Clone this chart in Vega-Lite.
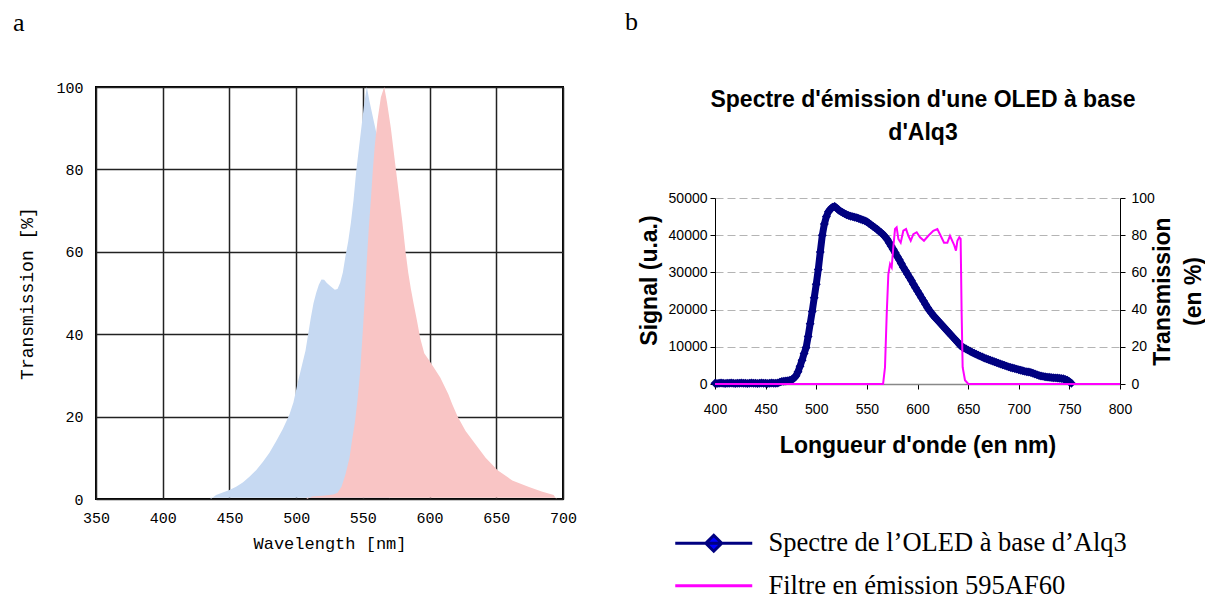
{
  "$schema": "https://vega.github.io/schema/vega-lite/v6.json",
  "background": "white",
  "padding": {"left": 12, "top": 9, "right": 0, "bottom": 0},
  "config": {
    "view": {"stroke": null},
    "font": "Liberation Sans",
    "axis": {"labelColor": "#000", "titleColor": "#000"}
  },
  "datasets": {
    "blue": [
      {"nm": 436, "t": 0}, {"nm": 440, "t": 1}, {"nm": 445, "t": 1.6}, {"nm": 450, "t": 2.2}, {"nm": 455, "t": 3},
      {"nm": 460, "t": 4}, {"nm": 465, "t": 5.4}, {"nm": 470, "t": 7}, {"nm": 475, "t": 9}, {"nm": 480, "t": 11.2},
      {"nm": 485, "t": 14}, {"nm": 490, "t": 17}, {"nm": 495, "t": 20.5}, {"nm": 498, "t": 23.5}, {"nm": 501, "t": 28},
      {"nm": 504, "t": 32}, {"nm": 507, "t": 36}, {"nm": 509, "t": 40}, {"nm": 511, "t": 44}, {"nm": 513, "t": 47.5},
      {"nm": 515, "t": 50}, {"nm": 517, "t": 52}, {"nm": 519, "t": 53.3}, {"nm": 521, "t": 53.2}, {"nm": 523, "t": 52.4},
      {"nm": 526, "t": 51.6}, {"nm": 529, "t": 50.8}, {"nm": 531, "t": 51}, {"nm": 533, "t": 52.5}, {"nm": 535, "t": 55},
      {"nm": 537, "t": 59}, {"nm": 539, "t": 62.5}, {"nm": 541, "t": 67}, {"nm": 543, "t": 72.5}, {"nm": 545, "t": 79.5},
      {"nm": 547, "t": 85}, {"nm": 549, "t": 90.5}, {"nm": 551, "t": 96}, {"nm": 553, "t": 100}, {"nm": 555, "t": 96.5},
      {"nm": 558, "t": 92}, {"nm": 560, "t": 89}, {"nm": 562, "t": 80}, {"nm": 564, "t": 50}, {"nm": 566, "t": 20},
      {"nm": 568, "t": 5}, {"nm": 570, "t": 0}
    ],
    "pink": [
      {"nm": 508, "t": 0}, {"nm": 512, "t": 0.6}, {"nm": 520, "t": 0.8}, {"nm": 528, "t": 1.1}, {"nm": 531, "t": 1.5},
      {"nm": 534, "t": 3}, {"nm": 537, "t": 6}, {"nm": 540, "t": 10}, {"nm": 542, "t": 14.5}, {"nm": 544, "t": 18.5},
      {"nm": 546, "t": 24}, {"nm": 548, "t": 31}, {"nm": 550, "t": 41}, {"nm": 551.5, "t": 49}, {"nm": 553, "t": 58},
      {"nm": 554.5, "t": 66}, {"nm": 556, "t": 72.5}, {"nm": 557.5, "t": 80}, {"nm": 559, "t": 86}, {"nm": 561, "t": 92},
      {"nm": 563.5, "t": 97.5}, {"nm": 566, "t": 100}, {"nm": 568, "t": 96.5}, {"nm": 571, "t": 90}, {"nm": 574, "t": 82},
      {"nm": 577, "t": 74}, {"nm": 579.5, "t": 67.5}, {"nm": 582, "t": 60}, {"nm": 584, "t": 55}, {"nm": 586, "t": 51},
      {"nm": 588, "t": 47.5}, {"nm": 590.5, "t": 43.4}, {"nm": 593, "t": 39}, {"nm": 596, "t": 35.4}, {"nm": 600, "t": 33.5},
      {"nm": 604, "t": 31.5}, {"nm": 608, "t": 29.5}, {"nm": 611, "t": 27.5}, {"nm": 614, "t": 25.5}, {"nm": 617, "t": 23},
      {"nm": 621, "t": 20}, {"nm": 627, "t": 16.5}, {"nm": 634, "t": 13.5}, {"nm": 642, "t": 10}, {"nm": 651, "t": 7},
      {"nm": 662, "t": 4.5}, {"nm": 674, "t": 3}, {"nm": 684, "t": 1.8}, {"nm": 693, "t": 1}, {"nm": 695, "t": 0}
    ],
    "spectre": [
      {"nm": 400, "s": 200}, {"nm": 402, "s": 150}, {"nm": 404, "s": 200}, {"nm": 406, "s": 250}, {"nm": 408, "s": 200},
      {"nm": 410, "s": 150}, {"nm": 412, "s": 200}, {"nm": 414, "s": 200}, {"nm": 416, "s": 250}, {"nm": 418, "s": 200},
      {"nm": 420, "s": 150}, {"nm": 422, "s": 200}, {"nm": 424, "s": 200}, {"nm": 426, "s": 250}, {"nm": 428, "s": 200},
      {"nm": 430, "s": 200}, {"nm": 432, "s": 150}, {"nm": 434, "s": 200}, {"nm": 436, "s": 250}, {"nm": 438, "s": 200},
      {"nm": 440, "s": 200}, {"nm": 442, "s": 150}, {"nm": 444, "s": 200}, {"nm": 446, "s": 250}, {"nm": 448, "s": 200},
      {"nm": 450, "s": 200}, {"nm": 452, "s": 150}, {"nm": 454, "s": 200}, {"nm": 456, "s": 250}, {"nm": 458, "s": 200},
      {"nm": 460, "s": 200}, {"nm": 462, "s": 250}, {"nm": 464, "s": 500}, {"nm": 466, "s": 700}, {"nm": 468, "s": 750},
      {"nm": 470, "s": 800}, {"nm": 472, "s": 900}, {"nm": 474, "s": 1000}, {"nm": 476, "s": 1200}, {"nm": 478, "s": 1600},
      {"nm": 480, "s": 2200}, {"nm": 482, "s": 3300}, {"nm": 484, "s": 4800}, {"nm": 486, "s": 6400}, {"nm": 488, "s": 8200},
      {"nm": 490, "s": 9800}, {"nm": 492, "s": 12800}, {"nm": 494, "s": 16200}, {"nm": 496, "s": 19500}, {"nm": 498, "s": 23200},
      {"nm": 500, "s": 26800}, {"nm": 502, "s": 30800}, {"nm": 504, "s": 35500}, {"nm": 506, "s": 40000}, {"nm": 508, "s": 43000},
      {"nm": 510, "s": 45000}, {"nm": 512, "s": 46300}, {"nm": 514, "s": 47000}, {"nm": 516, "s": 47500}, {"nm": 518, "s": 47700},
      {"nm": 520, "s": 47300}, {"nm": 522, "s": 46800}, {"nm": 524, "s": 46400}, {"nm": 526, "s": 46100}, {"nm": 528, "s": 45800},
      {"nm": 530, "s": 45500}, {"nm": 532, "s": 45300}, {"nm": 534, "s": 45100}, {"nm": 536, "s": 45000}, {"nm": 538, "s": 44800},
      {"nm": 540, "s": 44700}, {"nm": 542, "s": 44500}, {"nm": 544, "s": 44300}, {"nm": 546, "s": 44100}, {"nm": 548, "s": 43900},
      {"nm": 550, "s": 43600}, {"nm": 552, "s": 43200}, {"nm": 554, "s": 42800}, {"nm": 556, "s": 42400}, {"nm": 558, "s": 42000},
      {"nm": 560, "s": 41600}, {"nm": 562, "s": 41100}, {"nm": 564, "s": 40700}, {"nm": 566, "s": 40200}, {"nm": 568, "s": 39600},
      {"nm": 570, "s": 38900}, {"nm": 572, "s": 38000}, {"nm": 574, "s": 37100}, {"nm": 576, "s": 36200}, {"nm": 578, "s": 35300},
      {"nm": 580, "s": 34300}, {"nm": 582, "s": 33400}, {"nm": 584, "s": 32400}, {"nm": 586, "s": 31400}, {"nm": 588, "s": 30500},
      {"nm": 590, "s": 29600}, {"nm": 592, "s": 28700}, {"nm": 594, "s": 27800}, {"nm": 596, "s": 26800}, {"nm": 598, "s": 25900},
      {"nm": 600, "s": 25000}, {"nm": 602, "s": 24100}, {"nm": 604, "s": 23200}, {"nm": 606, "s": 22300}, {"nm": 608, "s": 21400},
      {"nm": 610, "s": 20500}, {"nm": 612, "s": 19700}, {"nm": 614, "s": 19000}, {"nm": 616, "s": 18300}, {"nm": 618, "s": 17700},
      {"nm": 620, "s": 17100}, {"nm": 622, "s": 16500}, {"nm": 624, "s": 15900}, {"nm": 626, "s": 15300}, {"nm": 628, "s": 14700},
      {"nm": 630, "s": 14100}, {"nm": 632, "s": 13500}, {"nm": 634, "s": 12900}, {"nm": 636, "s": 12300}, {"nm": 638, "s": 11700},
      {"nm": 640, "s": 11100}, {"nm": 642, "s": 10500}, {"nm": 644, "s": 10000}, {"nm": 646, "s": 9700}, {"nm": 648, "s": 9400},
      {"nm": 650, "s": 9100}, {"nm": 652, "s": 8800}, {"nm": 654, "s": 8500}, {"nm": 656, "s": 8250}, {"nm": 658, "s": 8000},
      {"nm": 660, "s": 7750}, {"nm": 662, "s": 7500}, {"nm": 664, "s": 7250}, {"nm": 666, "s": 7000}, {"nm": 668, "s": 6800},
      {"nm": 670, "s": 6600}, {"nm": 672, "s": 6400}, {"nm": 674, "s": 6200}, {"nm": 676, "s": 6000}, {"nm": 678, "s": 5800},
      {"nm": 680, "s": 5600}, {"nm": 682, "s": 5400}, {"nm": 684, "s": 5200}, {"nm": 686, "s": 5000}, {"nm": 688, "s": 4800},
      {"nm": 690, "s": 4600}, {"nm": 692, "s": 4450}, {"nm": 694, "s": 4300}, {"nm": 696, "s": 4150}, {"nm": 698, "s": 4000},
      {"nm": 700, "s": 3850}, {"nm": 702, "s": 3700}, {"nm": 704, "s": 3550}, {"nm": 706, "s": 3400}, {"nm": 708, "s": 3300},
      {"nm": 710, "s": 3200}, {"nm": 712, "s": 3100}, {"nm": 714, "s": 2900}, {"nm": 716, "s": 2700}, {"nm": 718, "s": 2500},
      {"nm": 720, "s": 2300}, {"nm": 722, "s": 2150}, {"nm": 724, "s": 2050}, {"nm": 726, "s": 1950}, {"nm": 728, "s": 1850},
      {"nm": 730, "s": 1800}, {"nm": 732, "s": 1750}, {"nm": 734, "s": 1700}, {"nm": 736, "s": 1650}, {"nm": 738, "s": 1600},
      {"nm": 740, "s": 1550}, {"nm": 742, "s": 1500}, {"nm": 744, "s": 1400}, {"nm": 746, "s": 1200}, {"nm": 748, "s": 1000},
      {"nm": 750, "s": 600}, {"nm": 752, "s": 200}
    ],
    "filtre": [
      {"nm": 400, "t": 0}, {"nm": 566, "t": 0}, {"nm": 567.9, "t": 9}, {"nm": 569.6, "t": 37.6}, {"nm": 571.2, "t": 59},
      {"nm": 572.9, "t": 64.5}, {"nm": 574.5, "t": 62.7}, {"nm": 576.1, "t": 73.5}, {"nm": 577.8, "t": 83.3}, {"nm": 579.4, "t": 84.2},
      {"nm": 581.1, "t": 78}, {"nm": 583.4, "t": 76}, {"nm": 586, "t": 82.4}, {"nm": 588.7, "t": 83.3}, {"nm": 591, "t": 79.7},
      {"nm": 593.3, "t": 77}, {"nm": 595.9, "t": 80.6}, {"nm": 599.2, "t": 81.6}, {"nm": 602.5, "t": 78.9}, {"nm": 606.4, "t": 77},
      {"nm": 610.7, "t": 79.7}, {"nm": 615.6, "t": 82.4}, {"nm": 619.6, "t": 83.3}, {"nm": 622.9, "t": 79.7}, {"nm": 626.2, "t": 76},
      {"nm": 629.5, "t": 76}, {"nm": 632.1, "t": 79.7}, {"nm": 636, "t": 75}, {"nm": 638, "t": 71.7}, {"nm": 639.4, "t": 77},
      {"nm": 641.3, "t": 78.9}, {"nm": 642.6, "t": 78}, {"nm": 643.6, "t": 37.6}, {"nm": 644.6, "t": 9}, {"nm": 646.9, "t": 2},
      {"nm": 650.2, "t": 0}, {"nm": 800, "t": 0}
    ]
  },
  "resolve": {"scale": {"color": "independent"}, "legend": {"color": "independent"}},
  "hconcat": [
    {
      "width": 467,
      "height": 412,
      "view": {"stroke": "#000", "strokeWidth": 2},
      "title": {"text": "a", "anchor": "start", "frame": "group", "dx": -83, "offset": 44, "font": "Liberation Serif", "fontSize": 26, "fontWeight": "normal", "color": "#000"},
      "encoding": {
        "x": {"field": "nm", "type": "quantitative", "scale": {"domain": [350, 700], "nice": false, "zero": false},
          "axis": {"values": [350, 400, 450, 500, 550, 600, 650, 700], "grid": true, "gridColor": "#222", "gridWidth": 1.5, "gridOpacity": 1,
            "ticks": false, "domain": false,
            "labelFlush": false, "labelOverlap": false, "labelFont": "Liberation Mono", "labelFontSize": 15, "labelPadding": 11,
            "title": "Wavelength [nm]", "titleFont": "Liberation Mono", "titleFontSize": 17, "titleFontWeight": "normal", "titlePadding": 10}},
        "y": {"field": "t", "type": "quantitative", "scale": {"domain": [0, 100], "nice": false},
          "axis": {"values": [0, 20, 40, 60, 80, 100], "grid": true, "gridColor": "#222", "gridWidth": 1.5, "gridOpacity": 1,
            "ticks": false, "domain": false, "labelFont": "Liberation Mono", "labelFontSize": 15, "labelPadding": 13,
            "title": "Transmission [%]", "titleFont": "Liberation Mono", "titleFontSize": 18, "titleFontWeight": "normal", "titlePadding": 19}},
        "y2": {"datum": 0.3}
      },
      "layer": [
        {"data": {"name": "blue"}, "mark": {"type": "area", "color": "#c6d9f2", "opacity": 1}},
        {"data": {"name": "pink"}, "mark": {"type": "area", "color": "#f9c5c5", "opacity": 1}}
      ]
    },
    {
      "title": {"text": "b", "anchor": "start", "frame": "group", "dx": -90, "offset": 52, "font": "Liberation Serif", "fontSize": 26, "fontWeight": "normal", "color": "#000"},
      "resolve": {"scale": {"color": "independent"}, "legend": {"color": "independent"}},
      "spacing": 0,
      "vconcat": [
        {
          "width": 405,
          "height": 1,
          "data": {"values": []},
          "mark": {"type": "point", "opacity": 0}
        },
        {
          "width": 405,
          "height": 186,
          "layer": [
            {
              "data": {"name": "spectre"},
              "transform": [{"calculate": "'Spectre de l’OLED à base d’Alq3'", "as": "series"}],
              "encoding": {
                "x": {"field": "nm", "type": "quantitative", "scale": {"domain": [400, 800], "nice": false, "zero": false},
                  "axis": {"values": [400, 450, 500, 550, 600, 650, 700, 750, 800], "grid": false, "domainColor": "#888", "domainWidth": 1.5,
                    "tickColor": "#000", "tickSize": 5, "labelFlush": false, "labelOverlap": false, "labelFont": "Liberation Sans", "labelFontSize": 14, "labelPadding": 13,
                    "title": "Longueur d'onde (en nm)", "titleFont": "Liberation Sans", "titleFontSize": 23, "titleFontWeight": "bold", "titlePadding": 18}},
                "y": {"field": "s", "type": "quantitative", "scale": {"domain": [0, 50000], "nice": false},
                  "axis": {"orient": "left", "values": [0, 10000, 20000, 30000, 40000, 50000], "format": "d", "grid": true, "gridColor": "#b4b4b4", "gridDash": [8, 4], "gridWidth": 1,
                    "domainColor": "#000", "tickColor": "#000", "tickSize": 5, "labelFont": "Liberation Sans", "labelFontSize": 14, "labelPadding": 3,
                    "title": "Signal  (u.a.)", "titleFont": "Liberation Sans", "titleFontSize": 23, "titleFontWeight": "bold", "titlePadding": 7, "titleY": 82}}
              },
              "layer": [
                {
                  "mark": {"type": "line", "strokeWidth": 7},
                  "encoding": {
                    "color": {"field": "series", "type": "nominal",
                      "scale": {"domain": ["Spectre de l’OLED à base d’Alq3", "Filtre en émission 595AF60"], "range": ["#000080", "#ff00ff"]},
                      "legend": {"orient": "none", "legendX": -14.5, "legendY": 332, "title": null, "direction": "vertical",
                        "symbolSize": 100, "symbolStrokeWidth": 3, "rowPadding": 14.5, "labelOffset": 41.5, "labelLimit": 0,
                        "labelFont": "Liberation Serif", "labelFontSize": 26.5, "labelColor": "#000",
                        "encode": {"symbols": {"update": {
                          "shape": [{"test": "datum.value === 'Spectre de l’OLED à base d’Alq3'", "value": "M-7.7,0L7.7,0M0,-1.6L1.6,0L0,1.6L-1.6,0Z"}, {"value": "M-7.7,0L7.7,0"}],
                          "fill": [{"test": "datum.value === 'Spectre de l’OLED à base d’Alq3'", "value": "#0000ff"}, {"value": "transparent"}],
                          "stroke": [{"test": "datum.value === 'Spectre de l’OLED à base d’Alq3'", "value": "#000080"}, {"value": "#ff00ff"}],
                          "strokeWidth": {"value": 3},
                          "opacity": {"value": 1}
                        }}}}
                    }
                  }
                },
                {"mark": {"type": "point", "shape": "diamond", "filled": true, "size": 80, "color": "#000080", "opacity": 1}}
              ]
            },
            {
              "data": {"name": "filtre"},
              "transform": [{"calculate": "'Filtre en émission 595AF60'", "as": "series"}],
              "mark": {"type": "line", "strokeWidth": 2},
              "encoding": {
                "x": {"field": "nm", "type": "quantitative",
                  "axis": {"orient": "top", "labels": false, "ticks": false, "domain": false, "grid": false,
                    "title": ["Spectre d'émission d'une OLED à base", "d'Alq3"], "titleFont": "Liberation Sans", "titleFontSize": 23, "titleFontWeight": "bold",
                    "titlePadding": 54, "titleLineHeight": 33, "titleX": 207.5}},
                "y": {"field": "t", "type": "quantitative", "scale": {"domain": [0, 100], "nice": false},
                  "axis": {"orient": "right", "values": [0, 20, 40, 60, 80, 100], "grid": false, "domainColor": "#000", "tickColor": "#000", "tickSize": 5,
                    "labelFont": "Liberation Sans", "labelFontSize": 14, "labelPadding": 6,
                    "title": ["Transmission", "(en %)"], "titleAngle": 270, "titleBaseline": "top", "titleFont": "Liberation Sans", "titleFontSize": 23, "titleFontWeight": "bold",
                    "titlePadding": -33, "titleLineHeight": 30.5}},
                "color": {"field": "series", "type": "nominal"}
              }
            }
          ],
          "resolve": {"scale": {"y": "independent"}, "axis": {"x": "independent"}}
        }
      ]
    }
  ],
  "spacing": 47
}
